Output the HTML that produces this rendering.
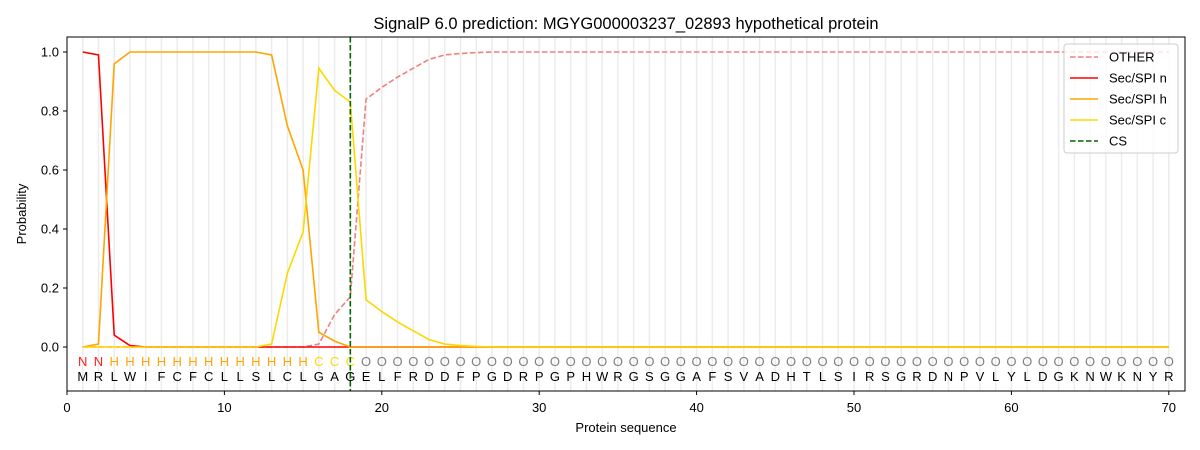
<!DOCTYPE html>
<html><head><meta charset="utf-8"><style>body{margin:0;background:#fff}svg{display:block}text{font-family:"Liberation Sans","DejaVu Sans",sans-serif}</style></head>
<body><svg id="s" width="1200" height="450" xmlns="http://www.w3.org/2000/svg"></svg>
<script>
const s=document.getElementById('s');let h='';
const X=v=>67+v*15.74,Y=v=>347-v*295;
h+='<rect x="67" y="37" width="1118" height="354" fill="#fff"/>';
for(let i=1;i<=70;i++)h+=`<line x1="${X(i)}" x2="${X(i)}" y1="37" y2="391" stroke="#ececec" stroke-width="1.5"/>`;
const seq="MRLWIFCFCLLSLCLGAGELFRDDFPGDRPGPHWRGSGGAFSVADHTLSIRSGRDNPVLYLDGKNWKNYR";
for(let i=1;i<=70;i++){let l,c;if(i<=2){l='N';c='#ff2020'}else if(i<=15){l='H';c='#ffa500'}else if(i<=18){l='C';c='#ffd700'}else{l='O';c='#808080'}
h+=`<text x="${X(i)}" y="366" font-size="13" fill="${c}" text-anchor="middle">${l}</text><text x="${X(i)}" y="381" font-size="13" fill="#000" text-anchor="middle">${seq[i-1]}</text>`;}
function line(d,col,dash){let p=d.map((v,i)=>X(i+1)+','+Y(v)).join(' ');h+=`<polyline points="${p}" fill="none" stroke="${col}" stroke-width="1.6" ${dash?'stroke-dasharray="5.5,2.5"':''}/>`;}
const fill=(a)=>{while(a.length<70)a.push(a[a.length-1]);return a};
const other=fill([0,0,0,0,0,0,0,0,0,0,0,0,0,0,0,0.01,0.11,0.17,0.84,0.88,0.915,0.945,0.975,0.99,0.995,0.998,1]);
const n=fill([1,0.99,0.04,0.005,0]);
const hh=fill([0,0.01,0.96,1,1,1,1,1,1,1,1,1,0.99,0.75,0.6,0.05,0.02,0,0]);
const c=fill([0,0,0,0,0,0,0,0,0,0,0,0,0.01,0.25,0.39,0.945,0.87,0.83,0.16,0.12,0.085,0.055,0.025,0.01,0.005,0.002,0]);
line(other,'#f08080',1);line(n,'#ff0000');line(hh,'#ffa500');line(c,'#ffd700');
h+=`<line x1="${X(18)}" x2="${X(18)}" y1="37" y2="391" stroke="#006400" stroke-width="1.6" stroke-dasharray="5.5,2.5"/>`;
h+='<rect x="67" y="37" width="1118" height="354" fill="none" stroke="#000" stroke-width="1"/>';
for(let i=0;i<=70;i+=10){h+=`<line x1="${X(i)}" x2="${X(i)}" y1="391" y2="395" stroke="#000"/><text x="${X(i)}" y="412" font-size="13" text-anchor="middle">${i}</text>`;}
for(let v=0;v<=5;v++){let y=Y(v*0.2);h+=`<line x1="63" x2="67" y1="${y}" y2="${y}" stroke="#000"/><text x="59" y="${y+4.5}" font-size="13" text-anchor="end">${(v*0.2).toFixed(1)}</text>`;}
h+='<text x="626" y="432" font-size="13" text-anchor="middle">Protein sequence</text>';
h+='<text x="26" y="214" font-size="13" text-anchor="middle" transform="rotate(-90 26 214)">Probability</text>';
h+='<text x="626" y="29" font-size="16.5" text-anchor="middle">SignalP 6.0 prediction: MGYG000003237_02893 hypothetical protein</text>';
h+='<rect x="1064" y="44" width="114" height="109" rx="3" fill="#fff" fill-opacity="0.8" stroke="#ccc"/>';
[['OTHER','#f08080',1],['Sec/SPI n','#ff0000'],['Sec/SPI h','#ffa500'],['Sec/SPI c','#ffd700'],['CS','#006400',1]].forEach((e,i)=>{let y=57+i*21;h+=`<line x1="1070" x2="1098" y1="${y}" y2="${y}" stroke="${e[1]}" stroke-width="1.6" ${e[2]?'stroke-dasharray="5.5,2.5"':''}/><text x="1109" y="${y+4.5}" font-size="13">${e[0]}</text>`;});
s.innerHTML=h;
</script></body></html>
